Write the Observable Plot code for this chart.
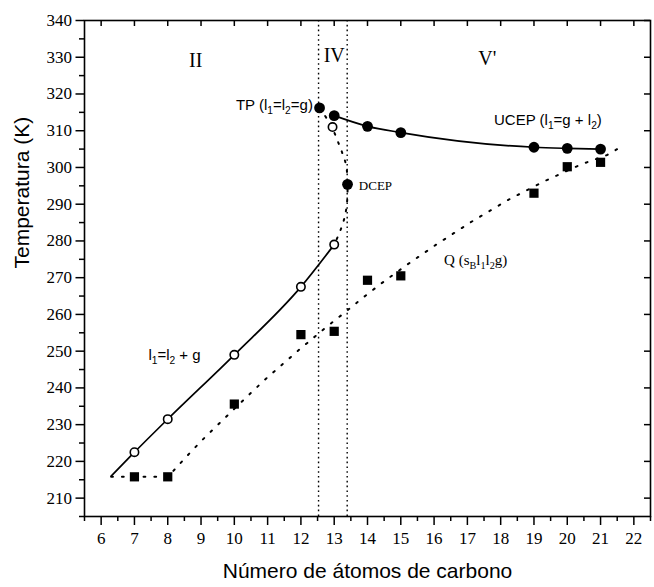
<!DOCTYPE html>
<html><head><meta charset="utf-8">
<script src="https://cdn.jsdelivr.net/npm/d3@7"></script>
<script src="https://cdn.jsdelivr.net/npm/@observablehq/plot@0.6"></script>
<style>body{margin:0;background:#fff}</style>
</head><body><div id="chart"></div>
<script>
// ---- data ----
const openX = [7, 8, 10, 12, 13, 12.95];
const openY = [222.5, 231.5, 249, 267.5, 279, 311];
const filledX = [12.56, 13, 14, 15, 19, 20, 21, 13.4];
const filledY = [316.2, 314.1, 311.2, 309.5, 305.5, 305.2, 305.0, 295.4];
const squareX = [7, 8, 10, 12, 13, 14, 15, 19, 20, 21];
const squareY = [215.8, 215.8, 235.6, 254.5, 255.4, 269.3, 270.5, 293, 300.2, 301.4];
const liquidX = [6.3, 7, 8, 10, 12, 13];
const liquidY = [216, 222.5, 231.5, 249, 267.5, 279];
const ucepX = [13, 14, 15, 19, 20, 21];
const ucepY = [314.1, 311.2, 309.5, 305.5, 305.2, 305.0];
const dcepX = [12.56, 12.8, 12.95, 13.1, 13.24, 13.36, 13.4, 13.38, 13.3, 13.17, 13];
const dcepY = [316.2, 313, 310.6, 307.3, 304, 300.5, 295.4, 290, 286, 282.5, 279];
const qX = [6.3, 8, 8.25, 8.5, 9, 10, 10.9, 12, 12.81, 13.34, 13.87, 14.41, 15.23, 16.03, 17.1, 18.23, 19.3, 20.38, 21.2, 21.65];
const qY = [215.8, 215.8, 218.2, 220.7, 225.5, 234.3, 242.1, 250.8, 256.9, 260.7, 264.6, 268.4, 273.8, 278.8, 285.1, 291.2, 296.2, 300.7, 303.4, 305.8];
const boundaryX = [12.53, 13.39];
const xTickValues = [6, 7, 8, 9, 10, 11, 12, 13, 14, 15, 16, 17, 18, 19, 20, 21, 22];
const xMinorValues = [5.5, 6.5, 7.5, 8.5, 9.5, 10.5, 11.5, 12.5, 13.5, 14.5, 15.5, 16.5, 17.5, 18.5, 19.5, 20.5, 21.5, 22.5];
const yTickValues = [210, 220, 230, 240, 250, 260, 270, 280, 290, 300, 310, 320, 330, 340];
const yMinorValues = [205, 215, 225, 235, 245, 255, 265, 275, 285, 295, 305, 315, 325, 335];
const regionLabels = ["II", "IV", "V'"];
const regionX = [8.84, 13.0, 17.6];
const regionY = [329, 330.4, 329.6];
const tpLabel = "TP (l_1=l_2=g)";
const tpX = 12.36, tpY = 317;
const sansLabels = ["UCEP (l_1=g + l_2)", "l_1=l_2 + g"];
const sansX = [17.8, 7.42];
const sansY = [313, 249];
const serifLabels = ["DCEP", "Q (s_Bl_1l_2g)"];
const serifX = [13.74, 16.3];
const serifY = [294.9, 274.8];
const serifSize = [13, 15];
const xTitle = "Número de átomos de carbono";
const yTitle = "Temperatura (K)";

const pts = (xs, ys) => xs.map((x, i) => ({x, y: ys[i]}));
const SERIF = "'Liberation Serif', 'Times New Roman', serif";
const SANS = "'Liberation Sans', Arial, sans-serif";

const W = 654, H = 587, mL = 84, mR = 4, mT = 20, mB = 71;
const plotW = W - mL - mR, plotH = H - mT - mB;

const chart = Plot.plot({
  width: W, height: H,
  marginLeft: mL, marginRight: mR, marginTop: mT, marginBottom: mB,
  x: {domain: [5.5, 22.5], axis: null},
  y: {domain: [205, 340], axis: null},
  style: {background: "white", color: "black", overflow: "visible"},
  marks: [
    Plot.ruleX(boundaryX, {x: d => d, stroke: "black", strokeWidth: 1.4, strokeDasharray: "1.6,3.2"}),
    Plot.line(pts(qX, qY), {x: "x", y: "y", stroke: "black", strokeWidth: 2, strokeDasharray: "1.8,9"}),
    Plot.line(pts(dcepX, dcepY), {x: "x", y: "y", curve: "catmull-rom", stroke: "black", strokeWidth: 2, strokeDasharray: "1.8,8"}),
    Plot.line(pts(liquidX, liquidY), {x: "x", y: "y", curve: "monotone-x", stroke: "black", strokeWidth: 1.7}),
    Plot.line(pts(ucepX, ucepY), {x: "x", y: "y", curve: "monotone-x", stroke: "black", strokeWidth: 1.7}),
    Plot.dot(pts(squareX, squareY), {x: "x", y: "y", symbol: "square", r: 5.2, fill: "black"}),
    Plot.dot(pts(openX, openY), {x: "x", y: "y", r: 4.2, fill: "white", stroke: "black", strokeWidth: 1.6}),
    Plot.dot(pts(filledX, filledY), {x: "x", y: "y", r: 5.4, fill: "black"}),
    Plot.frame({stroke: "black", strokeWidth: 1.6}),
    Plot.axisX(xTickValues, {anchor: "bottom", tickSize: 9, tickPadding: 6, strokeWidth: 1.5, fontSize: 17, fontFamily: SERIF, label: null, tickFormat: d => String(d)}),
    Plot.axisX(xMinorValues, {anchor: "bottom", tickSize: 5, strokeWidth: 1.5, label: null, tickFormat: () => ""}),
    Plot.axisY(yTickValues, {anchor: "left", tickSize: 8.5, tickPadding: 4, strokeWidth: 1.5, fontSize: 17, fontFamily: SERIF, label: null, tickFormat: d => String(d)}),
    Plot.axisY(yMinorValues, {anchor: "left", tickSize: 5, strokeWidth: 1.5, label: null, tickFormat: () => ""}),
    Plot.ruleX(xTickValues, {x: d => d, insetBottom: plotH - 6, stroke: "black", strokeWidth: 1.5}),
    Plot.ruleY(yTickValues, {y: d => d, insetLeft: plotW - 6, stroke: "black", strokeWidth: 1.5}),
    Plot.text(regionLabels, {x: (d, i) => regionX[i], y: (d, i) => regionY[i], text: d => d, fontFamily: SERIF, fontSize: 20, fill: "black"}),
    Plot.text([tpLabel], {x: () => tpX, y: () => tpY, text: d => d, textAnchor: "end", fontFamily: SANS, fontSize: 15, fill: "black"}),
    Plot.text(sansLabels, {x: (d, i) => sansX[i], y: (d, i) => sansY[i], text: d => d, textAnchor: "start", fontFamily: SANS, fontSize: 15, fill: "black"}),
    Plot.text(serifLabels, {x: (d, i) => serifX[i], y: (d, i) => serifY[i], text: d => d, textAnchor: "start", fontSize: (d, i) => serifSize[i], fontFamily: SERIF, fill: "black"}),
    Plot.text([xTitle], {frameAnchor: "bottom", dy: 61, text: d => d, fontFamily: SANS, fontSize: 21, fill: "black"}),
    Plot.text([yTitle], {frameAnchor: "left", dx: -62, rotate: -90, text: d => d, fontFamily: SANS, fontSize: 21, fill: "black"})
  ]
});

// subscripts: "_X" -> subscript tspan
const NS = "http://www.w3.org/2000/svg";
chart.querySelectorAll("text").forEach(el => {
  const s = el.textContent;
  if (!s.includes("_") || el.children.length) return;
  const fs = parseFloat(el.getAttribute("font-size") || el.parentNode.getAttribute("font-size") || 15);
  const shift = fs * 0.28;
  el.textContent = "";
  let down = false;
  s.split(/(_.)/).forEach(p => {
    if (!p) return;
    const t = document.createElementNS(NS, "tspan");
    if (p[0] === "_") {
      t.textContent = p[1];
      t.setAttribute("font-size", (fs * 0.68).toFixed(1));
      if (!down) { t.setAttribute("dy", shift.toFixed(1)); down = true; }
    } else {
      t.textContent = p;
      if (down) { t.setAttribute("dy", (-shift).toFixed(1)); down = false; }
    }
    el.appendChild(t);
  });
});

document.getElementById("chart").appendChild(chart);
</script>
</body></html>
